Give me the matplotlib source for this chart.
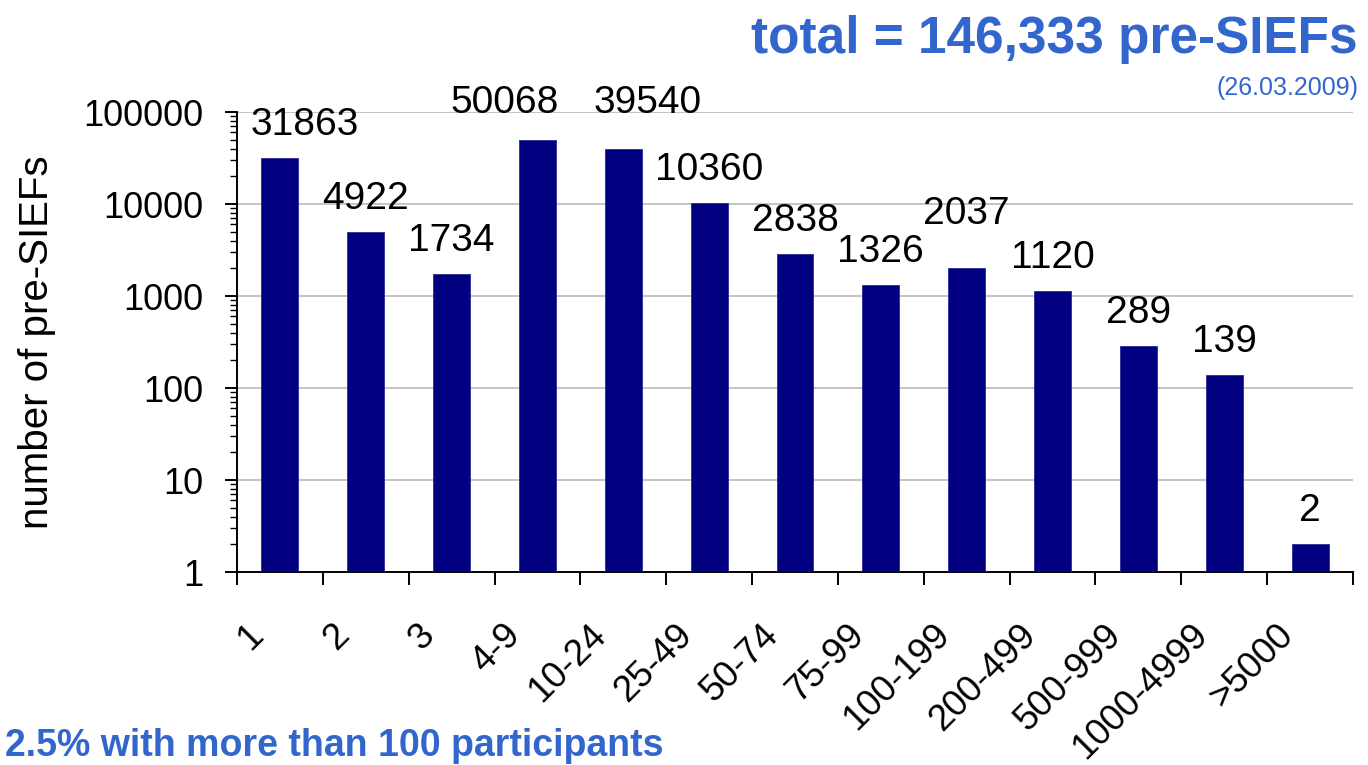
import numpy as np
import matplotlib
matplotlib.use("Agg")
import matplotlib.pyplot as plt
from matplotlib.ticker import LogLocator, FixedLocator, NullFormatter
from matplotlib.transforms import ScaledTranslation

plt.rcParams['font.family'] = ['Liberation Sans', 'DejaVu Sans']

categories = ["1", "2", "3", "4-9", "10-24", "25-49", "50-74", "75-99",
              "100-199", "200-499", "500-999", "1000-4999", ">5000"]
counts = [31863, 4922, 1734, 50068, 39540, 10360, 2838, 1326,
          2037, 1120, 289, 139, 2]
ytick_values = [1, 10, 100, 1000, 10000, 100000]
ytick_labels = ["1", "10", "100", "1000", "10000", "100000"]
title_text = "total = 146,333 pre-SIEFs"
date_text = "(26.03.2009)"
note_text = "2.5% with more than 100 participants"
ylabel_text = "number of pre-SIEFs"

# label offsets in pixels (style only)
label_dx = [25, 0, 0, -33, 24, 0, 0, 0, 0, 0, 0, 0, 0]
label_dy = [23, 23, 23, 27, 36, 23, 23, 23, 44, 23, 23, 23, 23]

W, H = 1368, 765
fig = plt.figure(figsize=(W / 100, H / 100), dpi=100)
ax = fig.add_axes([237 / W, 1 - 572 / H, (1353 - 237) / W, (572 - 112) / H])

bar_color = '#000080'
blue = '#3366cc'
x = np.arange(len(categories))
ax.bar(x, counts, width=0.43, color=bar_color, edgecolor='#2a2a9a',
       linewidth=0.6, zorder=3, log=True)
ax.set_yscale('log')
ax.set_ylim(1, 100000)
ax.set_xlim(-0.5, len(categories) - 0.5)

ax.yaxis.set_major_locator(FixedLocator(ytick_values))
ax.set_yticklabels(ytick_labels)
ax.yaxis.set_minor_locator(LogLocator(base=10, subs=np.arange(2, 10)))
ax.yaxis.set_minor_formatter(NullFormatter())
ax.tick_params(axis='y', which='major', length=9, width=1.4, labelsize=26,
               pad=15, direction='out')
ax.tick_params(axis='y', which='minor', length=5, width=1.0, direction='out')
ax.grid(axis='y', which='major', color='#c4c4c4', linewidth=1.4, zorder=0)

ax.set_xticks(np.arange(-0.5, len(categories), 1.0))
ax.set_xticklabels([])
ax.set_xticks(x, minor=True)
ax.set_xticklabels(categories, minor=True, rotation=45, ha='right',
                   va='center', rotation_mode='anchor', fontsize=26.5)
ax.tick_params(axis='x', which='major', length=9, width=1.4, direction='out')
ax.tick_params(axis='x', which='minor', length=0, pad=30)
shift = ScaledTranslation(-22 / 100, -16 / 100, fig.dpi_scale_trans)
for lab in ax.get_xticklabels(minor=True):
    lab.set_transform(lab.get_transform() + shift)

for s in ['top', 'right']:
    ax.spines[s].set_visible(False)
for s in ['left', 'bottom']:
    ax.spines[s].set_linewidth(1.4)
    ax.spines[s].set_color('black')

for i, v in enumerate(counts):
    ax.annotate(str(v), xy=(x[i], v), xytext=(label_dx[i], label_dy[i]),
                textcoords='offset pixels', ha='center', va='baseline',
                fontsize=28, color='black', zorder=5, annotation_clip=False)

fig.text(37 / W, 1 - 342 / H, ylabel_text, rotation=90, ha='center',
         va='center', fontsize=29, color='black')

fig.text(1358 / W, 1 - 53 / H, title_text, ha='right', va='baseline',
         fontsize=37, fontweight='bold', color=blue)
fig.text(1358 / W, 1 - 95 / H, date_text, ha='right', va='baseline',
         fontsize=18, color=blue)
fig.text(5 / W, 1 - 756 / H, note_text, ha='left', va='baseline',
         fontsize=27, fontweight='bold', color=blue)

fig.savefig('out.png', dpi=100)
